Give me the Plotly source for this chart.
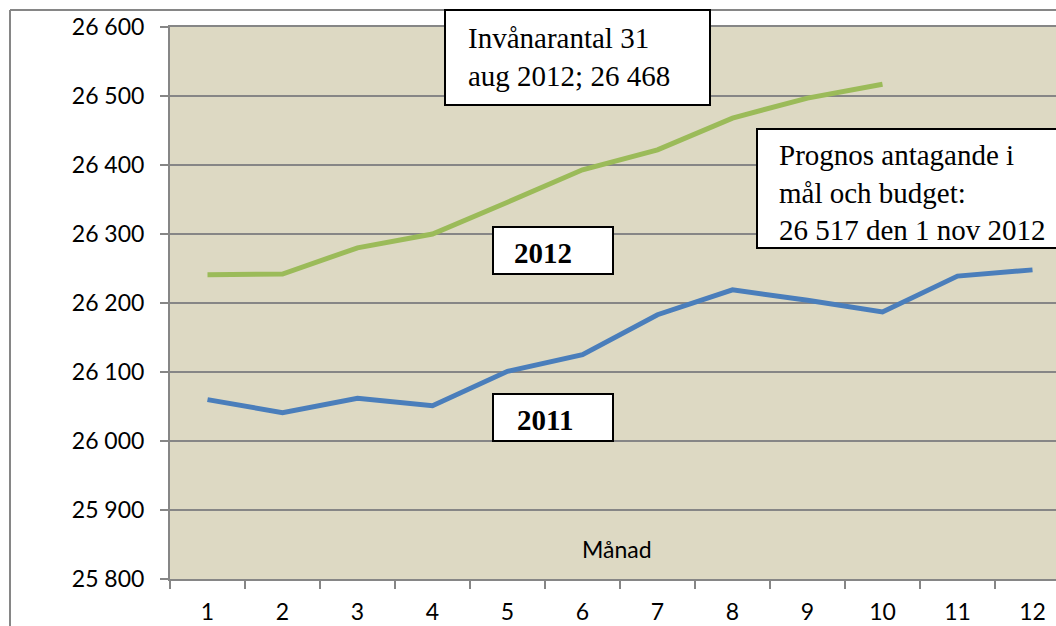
import plotly.graph_objects as go

months = ["1", "2", "3", "4", "5", "6", "7", "8", "9", "10", "11", "12"]
pop_2011 = [26060, 26041, 26062, 26051, 26101, 26125, 26183, 26219, 26204, 26187, 26239, 26248]
pop_2012 = [26241, 26242, 26280, 26300, 26346, 26393, 26422, 26468, 26497, 26517]
y_ticks = [25800, 25900, 26000, 26100, 26200, 26300, 26400, 26500, 26600]

W, H = 1056, 626
L, T, B = 170, 27, 579
R = W


def xp(px):
    return (px - L) / (R - L)


def yp(py):
    return (B - py) / (B - T)


fig = go.Figure()
fig.add_trace(go.Scatter(x=months, y=pop_2011, mode="lines",
                         line=dict(color="#4A7EBB", width=5), name="2011"))
fig.add_trace(go.Scatter(x=months[:len(pop_2012)], y=pop_2012, mode="lines",
                         line=dict(color="#9BBB59", width=5), name="2012"))

grey = "#868686"
serif = "Liberation Serif"

shapes = [
    # outer chart border (left + top)
    dict(type="line", xref="paper", yref="paper", x0=xp(10), x1=xp(10), y0=yp(10), y1=yp(700),
         line=dict(color=grey, width=2)),
    dict(type="line", xref="paper", yref="paper", x0=xp(10), x1=xp(1100), y0=yp(10), y1=yp(10),
         line=dict(color=grey, width=2)),
]
boxes = [(445, 10, 710, 105), (757, 129, 1070, 248), (493, 227, 613, 274), (493, 394, 613, 441)]
for x0, y0, x1, y1 in boxes:
    shapes.append(dict(type="rect", xref="paper", yref="paper", x0=xp(x0), x1=xp(x1),
                       y0=yp(y1), y1=yp(y0), fillcolor="white",
                       line=dict(color="black", width=2), layer="above"))

annotations = [
    dict(text="Invånarantal 31<br>aug 2012; 26 468", x=xp(466), y=yp(57), xanchor="left", yanchor="middle",
         align="left", font=dict(family=serif, size=29, color="black")),
    dict(text="Prognos antagande i<br>mål och budget:<br>26 517 den 1 nov 2012", x=xp(777), y=yp(192),
         xanchor="left", yanchor="middle", align="left", font=dict(family=serif, size=29, color="black")),
    dict(text="<b>2012</b>", x=xp(543), y=yp(253), xanchor="center", yanchor="middle",
         font=dict(family=serif, size=29, color="black")),
    dict(text="<b>2011</b>", x=xp(545), y=yp(420), xanchor="center", yanchor="middle",
         font=dict(family=serif, size=29, color="black")),
    dict(text="Månad", x=xp(617), y=yp(549), xanchor="center", yanchor="middle",
         font=dict(family="Lato", size=23, color="black")),
]
for a in annotations:
    a.update(xref="paper", yref="paper", showarrow=False)

fig.update_layout(
    width=W, height=H,
    margin=dict(l=L, r=W - R, t=T, b=H - B, autoexpand=False),
    paper_bgcolor="white", plot_bgcolor="#DDD9C3",
    showlegend=False,
    separators=", ",
    shapes=shapes, annotations=annotations,
    font=dict(family="Lato", size=23, color="black"),
)
fig.update_xaxes(type="category", categoryorder="array", categoryarray=months,
                 range=[-0.5, -0.5 + (R - L) / 75.0], tickson="boundaries",
                 ticks="outside", ticklen=8, tickwidth=2, tickcolor=grey,
                 showline=True, linecolor=grey, linewidth=2, mirror=True,
                 showgrid=False, ticklabelstandoff=11, automargin=False,
                 tickfont=dict(family="Lato", size=23))
fig.update_yaxes(range=[25800, 26600], tickvals=y_ticks, tickformat=",d",
                 ticks="outside", ticklen=8, tickwidth=2, tickcolor=grey,
                 showline=True, linecolor=grey, linewidth=2,
                 showgrid=True, gridcolor=grey, gridwidth=2, zeroline=False,
                 ticklabelstandoff=11, automargin=False,
                 tickfont=dict(family="Lato", size=23))

fig.write_html("out.html", config={"displayModeBar": False},
               post_script="document.body.style.margin='0';document.body.style.overflow='hidden';")
